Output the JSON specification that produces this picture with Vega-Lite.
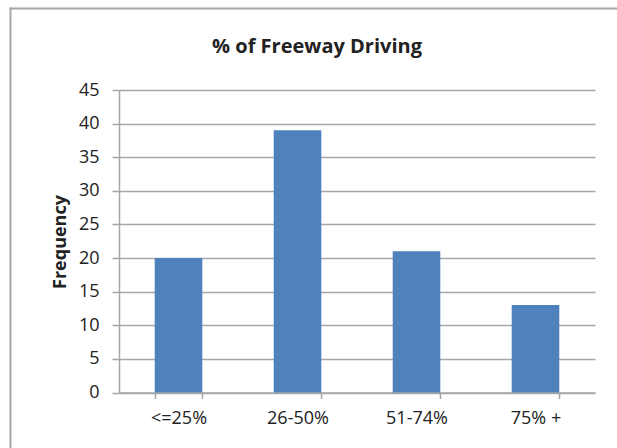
{
  "$schema": "https://vega.github.io/schema/vega-lite/v6.json",
  "width": 607,
  "height": 440,
  "autosize": {"type": "none"},
  "padding": {"left": 10, "top": 8, "right": 0, "bottom": 0},
  "background": "white",
  "title": {
    "text": "% of Freeway Driving",
    "font": "Open Sans",
    "fontSize": 20,
    "fontWeight": "bold",
    "color": "#222222",
    "anchor": "middle",
    "frame": "group",
    "baseline": "alphabetic",
    "offset": -65,
    "dx": 3.5
  },
  "data": {
    "values": [
      {"range": "<=25%", "frequency": 20},
      {"range": "26-50%", "frequency": 39},
      {"range": "51-74%", "frequency": 21},
      {"range": "75% +", "frequency": 13}
    ]
  },
  "layer": [
    {
      "mark": {"type": "bar", "color": "#4f81bd"},
      "encoding": {
        "x": {
          "field": "range",
          "type": "nominal",
          "sort": null,
          "scale": {"range": [109, 585], "paddingInner": 0.6, "paddingOuter": 0.3},
          "axis": {
            "title": null,
            "orient": "bottom",
            "offset": -55.5,
            "labelAngle": 0,
            "labelFont": "Open Sans",
            "labelFontSize": 18,
            "labelColor": "#222222",
            "labelPadding": 11,
            "tickBand": "extent",
            "tickSize": 6,
            "tickColor": "#a6a6a6",
            "tickWidth": 1.5,
            "domainColor": "#a6a6a6",
            "domainWidth": 1.5,
            "grid": false
          }
        },
        "y": {
          "field": "frequency",
          "type": "quantitative",
          "scale": {"domain": [0, 45], "range": [384.5, 82], "nice": false, "zero": true},
          "axis": {
            "title": "Frequency",
            "orient": "left",
            "titleFont": "Open Sans",
            "titleFontSize": 18,
            "titleFontWeight": "bold",
            "titleColor": "#222222",
            "titleX": -59,
            "titleY": 233.5,
            "titleAngle": -90,
            "titleAlign": "center",
            "titleBaseline": "middle",
            "offset": -109,
            "values": [0, 5, 10, 15, 20, 25, 30, 35, 40, 45],
            "labelFont": "Open Sans",
            "labelFontSize": 18,
            "labelColor": "#222222",
            "labelPadding": 13,
            "tickSize": 7,
            "tickColor": "#a6a6a6",
            "tickWidth": 1.5,
            "domainColor": "#a6a6a6",
            "domainWidth": 1.5,
            "grid": true,
            "gridColor": "#a6a6a6",
            "gridWidth": 1.5
          }
        }
      }
    },
    {
      "description": "Chart-area frame: top and left edges drawn as bare axis domain lines.",
      "mark": {"type": "point", "opacity": 0},
      "encoding": {
        "x": {
          "datum": 0,
          "type": "quantitative",
          "scale": {"domain": [0, 1], "nice": false},
          "axis": {
            "orient": "top",
            "offset": 0,
            "title": null,
            "labels": false,
            "ticks": false,
            "grid": false,
            "domainColor": "#a6a6a6",
            "domainWidth": 2,
            "domainCap": "square"
          }
        },
        "y": {
          "datum": 0,
          "type": "quantitative",
          "scale": {"domain": [0, 1], "nice": false},
          "axis": {
            "orient": "left",
            "offset": 0,
            "title": null,
            "labels": false,
            "ticks": false,
            "grid": false,
            "domainColor": "#a6a6a6",
            "domainWidth": 2,
            "domainCap": "square"
          }
        }
      }
    }
  ],
  "resolve": {"scale": {"x": "independent", "y": "independent"}},
  "config": {
    "view": {"stroke": null}
  }
}
